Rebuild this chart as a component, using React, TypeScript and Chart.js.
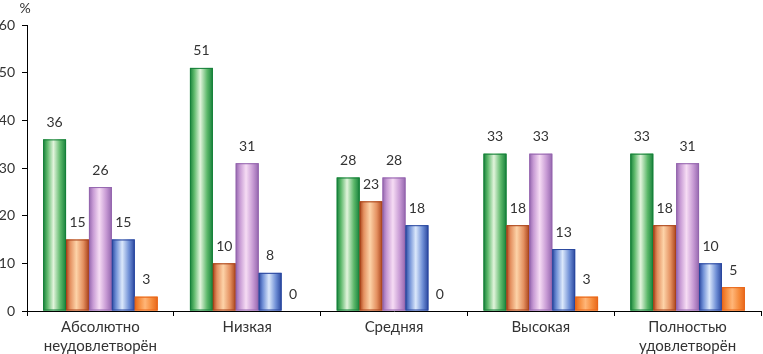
import React, { useEffect, useRef } from "react";
import { Chart, registerables } from "chart.js";

Chart.register(...registerables);

const categories: string[][] = [
  ["Абсолютно", "неудовлетворён"],
  ["Низкая"],
  ["Средняя"],
  ["Высокая"],
  ["Полностью", "удовлетворён"],
];
const seriesGreen = [36, 51, 28, 33, 33];
const seriesBrown = [15, 10, 23, 18, 18];
const seriesPurple = [26, 31, 28, 33, 31];
const seriesBlue = [15, 8, 18, 13, 10];
const seriesOrange = [3, 0, 0, 3, 5];
const yTicks = [0, 10, 20, 30, 40, 50, 60];

const palettes = [
  { edge: "#16803a", mid: "#5cb86a", light: "#e2f4dc" },
  { edge: "#a8421a", mid: "#e49060", light: "#fdd3a8" },
  { edge: "#9466ae", mid: "#c79ad4", light: "#f6dcf4" },
  { edge: "#2a479e", mid: "#6f8fd6", light: "#dbe8fb" },
  { edge: "#e8661a", mid: "#f58a3a", light: "#ffb678" },
];

const FONT = "Lato, 'Open Sans', sans-serif";

const gradientBars = {
  id: "gradientBars",
  afterDatasetsDraw(chart: any) {
    const ctx = chart.ctx;
    chart.data.datasets.forEach((ds: any, di: number) => {
      const meta = chart.getDatasetMeta(di);
      const p = palettes[di];
      meta.data.forEach((el: any) => {
        const { x, y, base, width } = el.getProps(["x", "y", "base", "width"], true);
        const h = base - y;
        if (h <= 0.5) return;
        const l = x - width / 2;
        const g = ctx.createLinearGradient(l, 0, l + width, 0);
        g.addColorStop(0, p.edge);
        g.addColorStop(0.18, p.mid);
        g.addColorStop(0.45, p.light);
        g.addColorStop(0.75, p.mid);
        g.addColorStop(1, p.edge);
        ctx.save();
        ctx.fillStyle = g;
        ctx.fillRect(l, y, width, h);
        ctx.strokeStyle = p.edge;
        ctx.lineWidth = 1;
        ctx.strokeRect(l + 0.5, y + 0.5, width - 1, h - 1);
        ctx.restore();
      });
    });
  },
};

const valueLabels = {
  id: "valueLabels",
  afterDatasetsDraw(chart: any) {
    const ctx = chart.ctx;
    ctx.save();
    ctx.font = `14px ${FONT}`;
    ctx.fillStyle = "#333";
    ctx.textAlign = "center";
    ctx.textBaseline = "bottom";
    chart.data.datasets.forEach((ds: any, di: number) => {
      const meta = chart.getDatasetMeta(di);
      meta.data.forEach((el: any, i: number) => {
        const v = ds.data[i];
        ctx.fillText(String(v), el.x, el.y - 10);
      });
    });
    ctx.restore();
  },
};

const percentTitle = {
  id: "percentTitle",
  afterDraw(chart: any) {
    const ctx = chart.ctx;
    const y = chart.scales.y;
    ctx.save();
    ctx.font = `14px ${FONT}`;
    ctx.fillStyle = "#333";
    ctx.textAlign = "center";
    ctx.textBaseline = "middle";
    ctx.fillText("%", y.right - 2, 8);
    ctx.restore();
  },
};

export default function App() {
  const ref = useRef<HTMLCanvasElement>(null);
  useEffect(() => {
    document.body.style.margin = "0";
    const series = [seriesGreen, seriesBrown, seriesPurple, seriesBlue, seriesOrange];
    const chart = new Chart(ref.current!, {
      type: "bar",
      data: {
        labels: categories as any,
        datasets: series.map((d, i) => ({
          data: d,
          backgroundColor: palettes[i].mid,
          borderWidth: 0,
          barPercentage: 1,
          categoryPercentage: 0.78,
        })),
      },
      options: {
        animation: false,
        responsive: false,
        maintainAspectRatio: false,
        layout: { padding: { top: 25, right: 2, left: 0, bottom: 0 } },
        plugins: { legend: { display: false }, tooltip: { enabled: false } },
        scales: {
          x: {
            afterFit: (s: any) => { s.height = 43; },
            border: { display: true, color: "#000", width: 1 },
            grid: { display: true, drawOnChartArea: false, drawTicks: true, tickLength: 5, color: "#000", offset: true },
            ticks: { color: "#333", font: { family: FONT, size: 15, lineHeight: 1.3 }, padding: 1, maxRotation: 0 },
          },
          y: {
            min: 0,
            max: 60,
            afterFit: (s: any) => { s.width = 27; },
            afterBuildTicks: (s: any) => { s.ticks = yTicks.map((v) => ({ value: v })); },
            border: { display: true, color: "#000", width: 1 },
            grid: { display: true, drawOnChartArea: false, drawTicks: true, tickLength: 5, color: "#000" },
            ticks: { color: "#333", font: { family: FONT, size: 14 }, padding: 7 },
          },
        },
      },
      plugins: [gradientBars, valueLabels, percentTitle],
    });
    return () => chart.destroy();
  }, []);
  return (
    <div style={{ width: 763, height: 354 }}>
      <canvas ref={ref} width={763} height={354} style={{ width: 763, height: 354, display: "block" }} />
    </div>
  );
}
